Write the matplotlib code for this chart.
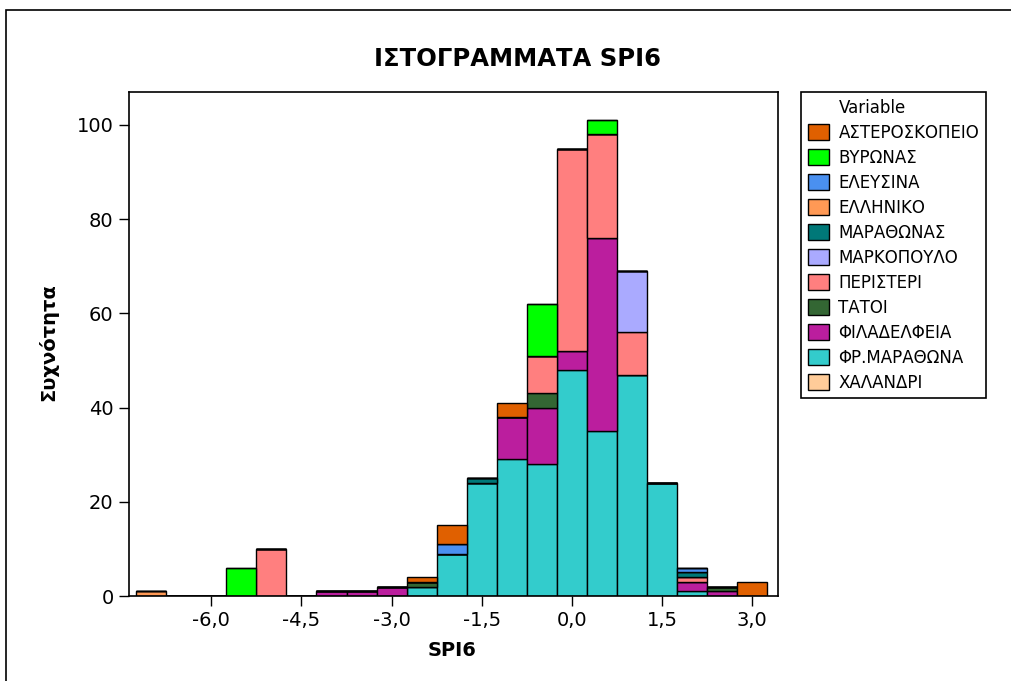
import numpy as np
import matplotlib

matplotlib.use('Agg')
import matplotlib.pyplot as plt
from matplotlib.patches import Rectangle
from matplotlib.ticker import FuncFormatter

# bin centres of the SPI6 histogram (width 0.5)
bins = [-7.0, -6.5, -6.0, -5.5, -5.0, -4.5, -4.0, -3.5, -3.0, -2.5, -2.0,
        -1.5, -1.0, -0.5, 0.0, 0.5, 1.0, 1.5, 2.0, 2.5, 3.0]

# counts per station, one value per bin
asteroskopeio = [0, 0, 0, 0, 0, 0, 0, 0, 0, 1, 4, 0, 3, 0, 0, 0, 0, 0, 0, 0, 3]
vyronas       = [0, 0, 0, 6, 0, 0, 0, 0, 0, 0, 0, 0, 0, 11, 0, 3, 0, 0, 0, 0, 0]
elefsina      = [0, 0, 0, 0, 0, 0, 0, 0, 0, 0, 2, 0, 0, 0, 0, 0, 0, 0, 1, 0, 0]
elliniko      = [1, 0, 0, 0, 0, 0, 0, 0, 0, 0, 0, 0, 0, 0, 0, 0, 0, 0, 0, 0, 0]
marathonas    = [0, 0, 0, 0, 0, 0, 0, 0, 0, 0, 0, 1, 0, 0, 0, 0, 0, 0, 1, 0, 0]
markopoulo    = [0, 0, 0, 0, 0, 0, 0, 0, 0, 0, 0, 0, 0, 0, 0, 0, 13, 0, 0, 0, 0]
peristeri     = [0, 0, 0, 0, 10, 0, 0, 0, 0, 0, 0, 0, 0, 8, 43, 22, 9, 0, 1, 0, 0]
tatoi         = [0, 0, 0, 0, 0, 0, 0, 0, 0, 1, 0, 0, 0, 3, 0, 0, 0, 0, 0, 1, 0]
filadelfeia   = [0, 0, 0, 0, 0, 0, 1, 1, 2, 0, 0, 0, 9, 12, 4, 41, 0, 0, 2, 1, 0]
fr_marathona  = [0, 0, 0, 0, 0, 0, 0, 0, 0, 2, 9, 24, 29, 28, 48, 35, 47, 24, 1, 0, 0]
chalandri     = [0] * 21

names = ['ΑΣΤΕΡΟΣΚΟΠΕΙΟ', 'ΒΥΡΩΝΑΣ', 'ΕΛΕΥΣΙΝΑ', 'ΕΛΛΗΝΙΚΟ', 'ΜΑΡΑΘΩΝΑΣ',
         'ΜΑΡΚΟΠΟΥΛΟ', 'ΠΕΡΙΣΤΕΡΙ', 'ΤΑΤΟΙ', 'ΦΙΛΑΔΕΛΦΕΙΑ', 'ΦΡ.ΜΑΡΑΘΩΝΑ',
         'ΧΑΛΑΝΔΡΙ']
series = [asteroskopeio, vyronas, elefsina, elliniko, marathonas, markopoulo,
          peristeri, tatoi, filadelfeia, fr_marathona, chalandri]
colors = ['#e06000', '#00ff00', '#4a90f0', '#ff9955', '#007878', '#aaaaff',
          '#ff7f7f', '#336633', '#bb1e9e', '#33cccc', '#ffcc99']

plt.rcParams['font.family'] = ['DejaVu Sans']

fig = plt.figure(figsize=(10.11, 6.81), dpi=100)
W, H = 1011, 681
ax = fig.add_axes([129 / W, 1 - 596 / H, (778 - 129) / W, (596 - 92) / H])

# stack from the last legend entry up to the first (Minitab order)
bottom = np.zeros(len(bins))
for name, vals, col in reversed(list(zip(names, series, colors))):
    v = np.array(vals, dtype=float)
    ax.bar(bins, v, width=0.5, bottom=bottom, color=col, edgecolor='black',
           linewidth=1.0, zorder=2)
    bottom += v

ax.set_xlim(-7.37, 3.43)
ax.set_ylim(0, 107)
ax.set_xticks([-6.0, -4.5, -3.0, -1.5, 0.0, 1.5, 3.0])
ax.xaxis.set_major_formatter(FuncFormatter(lambda v, p: f'{v:.1f}'.replace('.', ',')))
ax.set_yticks([0, 20, 40, 60, 80, 100])
ax.tick_params(axis='both', direction='out', length=7, width=1, labelsize=14,
               pad=4, top=False, right=False)
for s in ax.spines.values():
    s.set_linewidth(1.2)

fig.text(452 / W, 1 - 650 / H, 'SPI6', fontsize=14, fontweight='bold',
         ha='center', va='center')
fig.text(48 / W, 1 - 342 / H, 'Συχνότητα', fontsize=14, fontweight='bold',
         rotation=90, ha='center', va='center')
fig.text(517 / W, 1 - 59 / H, 'ΙΣΤΟΓΡΑΜΜΑΤΑ SPI6', fontsize=17.5,
         fontweight='bold', ha='center', va='center')

handles = [Rectangle((0, 0), 1, 1, visible=False)]
labels = ['Variable']
for name, col in zip(names, colors):
    handles.append(Rectangle((0, 0), 1, 1, facecolor=col, edgecolor='black',
                             linewidth=1.0))
    labels.append(name)
leg = fig.legend(handles, labels, loc='upper left',
                 bbox_to_anchor=(801 / W, 1 - 92 / H), borderaxespad=0,
                 fontsize=12, frameon=True, fancybox=False, framealpha=1,
                 edgecolor='black', handlelength=1.25, handleheight=1.05,
                 handletextpad=0.6, labelspacing=0.42, borderpad=0.4)
leg.get_frame().set_linewidth(1.2)

# outer border of the graph window
fig.add_artist(Rectangle((6 / W, -0.2), 1.2, 1.2 - 10 / H, transform=fig.transFigure,
                         fill=False, edgecolor='black', linewidth=1.2))

fig.savefig('out.png', dpi=100)
